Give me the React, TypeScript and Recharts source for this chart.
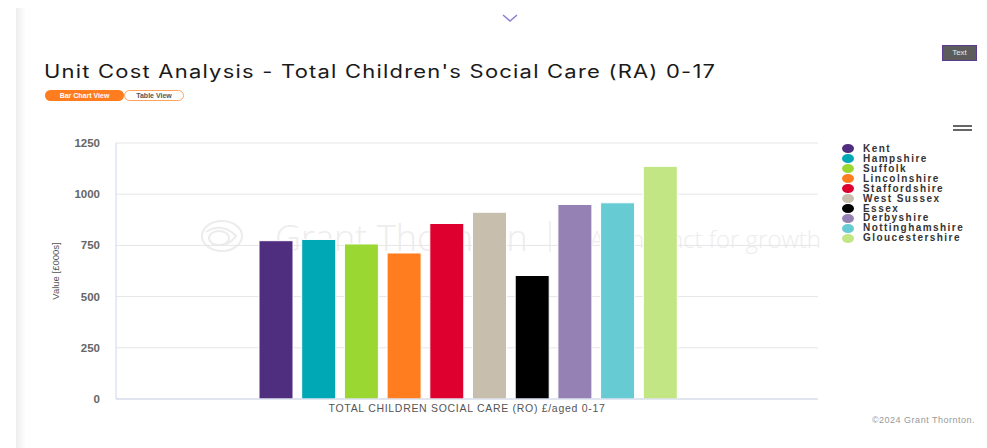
import { BarChart, Bar, XAxis, YAxis, CartesianGrid } from 'recharts'

const category = 'TOTAL CHILDREN SOCIAL CARE (RO) £/aged 0-17'
const regions = [
  'Kent',
  'Hampshire',
  'Suffolk',
  'Lincolnshire',
  'Staffordshire',
  'West Sussex',
  'Essex',
  'Derbyshire',
  'Nottinghamshire',
  'Gloucestershire',
]
const values = [773, 779, 757, 713, 857, 912, 603, 950, 958, 1136]
const colors = [
  '#4f2d7f',
  '#00a7b5',
  '#9bd732',
  '#ff7d1e',
  '#de002e',
  '#c8bead',
  '#000000',
  '#9581b3',
  '#66cbd3',
  '#c3e684',
]
const yTicks = [0, 250, 500, 750, 1000, 1250]

const chartData = [
  regions.reduce<Record<string, string | number>>(
    (row, name, i) => {
      row[name] = values[i]
      return row
    },
    { category }
  ),
]

const sans = '"Liberation Sans", Arial, sans-serif'

function YLabel({ viewBox }: any) {
  const cx = viewBox.x + 15
  const cy = viewBox.y + viewBox.height / 2
  return (
    <text
      x={cx}
      y={cy}
      transform={`rotate(-90 ${cx} ${cy})`}
      textAnchor="middle"
      dominantBaseline="central"
      fontSize={9.5}
      fill="#555"
      fontFamily={sans}
    >
      Value [£000s]
    </text>
  )
}

function Watermark() {
  return (
    <svg width={987} height={448} style={{ position: 'absolute', left: 0, top: 0 }}>
      <g fill="none" stroke="#ececec" strokeWidth={2}>
        <ellipse cx={222} cy={236} rx={20} ry={15} />
        <ellipse cx={219} cy={238} rx={10} ry={7} />
        <path d="M206 232 Q222 222 236 236 Q228 248 212 244" />
      </g>
      <text x={275} y={251} fontSize={36} fill="#ededed" fontFamily='"Open Sans", sans-serif' fontWeight={300}>
        Grant Thornton
      </text>
      <line x1={550} y1={221} x2={550} y2={252} stroke="#ececec" strokeWidth={1.5} />
      <text x={821} y={248} textAnchor="end" fontSize={24} fill="#ededed" fontFamily='"Open Sans", sans-serif' fontWeight={300}>
        An instinct for growth
      </text>
    </svg>
  )
}

export default function App() {
  return (
    <div style={{ position: 'absolute', left: 0, top: 0, width: 987, height: 448, background: '#fff', overflow: 'hidden' }}>
      <div
        style={{
          position: 'absolute',
          left: 16,
          top: 8,
          width: 10,
          height: 440,
          background: 'linear-gradient(to right, #ededed, #ffffff)',
        }}
      />
      <svg width={987} height={30} style={{ position: 'absolute', left: 0, top: 0 }}>
        <polyline points="503,15 510,21 517,15" fill="none" stroke="#8a7fd0" strokeWidth={1.5} />
      </svg>
      <div
        style={{
          position: 'absolute',
          left: 942,
          top: 45,
          width: 33,
          height: 14,
          background: '#5c5c5c',
          border: '1px solid #5b3c8c',
          color: '#e8e8e8',
          fontFamily: sans,
          fontSize: 8,
          lineHeight: '14px',
          textAlign: 'center',
        }}
      >
        Text
      </div>
      <div
        style={{
          position: 'absolute',
          left: 44,
          top: 63,
          fontFamily: 'Inter, sans-serif',
          fontSize: 18,
          lineHeight: '18px',
          color: '#1a1a1a',
          letterSpacing: 1,
          whiteSpace: 'nowrap',
          transform: 'scaleX(1.22)',
          transformOrigin: 'left center',
        }}
      >
        Unit Cost Analysis - Total Children's Social Care (RA) 0-17
      </div>
      <div
        style={{
          position: 'absolute',
          left: 45,
          top: 90,
          width: 79,
          height: 11,
          borderRadius: 6,
          background: '#ff7d1e',
          color: '#fff',
          fontFamily: sans,
          fontWeight: 700,
          fontSize: 7,
          lineHeight: '11px',
          textAlign: 'center',
        }}
      >
        Bar Chart View
      </div>
      <div
        style={{
          position: 'absolute',
          left: 124,
          top: 90,
          width: 58,
          height: 9,
          borderRadius: 6,
          border: '1px solid #ffa460',
          background: '#fff',
          color: '#555',
          fontFamily: sans,
          fontWeight: 700,
          fontSize: 7,
          lineHeight: '9px',
          textAlign: 'center',
        }}
      >
        Table View
      </div>
      <div style={{ position: 'absolute', left: 953, top: 125, width: 19, height: 2, background: '#666' }} />
      <div style={{ position: 'absolute', left: 953, top: 128.5, width: 19, height: 2, background: '#666' }} />

      <Watermark />

      <div style={{ position: 'absolute', left: 0, top: 0 }}>
        <BarChart
          width={987}
          height={448}
          data={chartData}
          margin={{ top: 143, right: 169, bottom: 28, left: 40 }}
          barCategoryGap={143}
          barGap={8.7}
        >
          <CartesianGrid vertical={false} stroke="#e6e6e6" />
          <XAxis
            dataKey="category"
            height={21}
            tickLine={false}
            tickSize={6}
            tickMargin={0}
            axisLine={{ stroke: '#ccd6eb' }}
            tick={{ fontSize: 10.5, fill: '#555', fontFamily: sans, letterSpacing: 0.7 }}
          />
          <YAxis
            width={76}
            domain={[0, 1250]}
            ticks={yTicks}
            interval={0}
            tickLine={false}
            tickSize={8}
            tickMargin={8}
            axisLine={{ stroke: '#ccd6eb' }}
            tick={{ fontSize: 11.5, fill: '#666', fontWeight: 700, fontFamily: sans }}
            label={<YLabel />}
          />
          {regions.map((name, i) => (
            <Bar
              key={name}
              dataKey={name}
              fill={colors[i]}
              stroke="#ffffff"
              strokeWidth={1}
              isAnimationActive={false}
            />
          ))}
        </BarChart>
      </div>

      {regions.map((name, i) => (
        <div
          key={name}
          style={{
            position: 'absolute',
            left: 842,
            top: 149 + i * 9.92 - 4.95,
            height: 9.9,
            display: 'flex',
            alignItems: 'center',
            whiteSpace: 'nowrap',
          }}
        >
          <span
            style={{
              display: 'inline-block',
              width: 12,
              height: 9,
              borderRadius: '50%',
              background: colors[i],
              marginRight: 9,
            }}
          />
          <span
            style={{
              fontFamily: sans,
              fontWeight: 700,
              fontSize: 10,
              lineHeight: '9.9px',
              letterSpacing: 1.45,
              color: '#333',
            }}
          >
            {name}
          </span>
        </div>
      ))}

      <div
        style={{
          position: 'absolute',
          right: 12,
          top: 415,
          fontFamily: sans,
          fontSize: 9,
          letterSpacing: 0.5,
          color: '#999',
          whiteSpace: 'nowrap',
        }}
      >
        ©2024 Grant Thornton.
      </div>
    </div>
  )
}
